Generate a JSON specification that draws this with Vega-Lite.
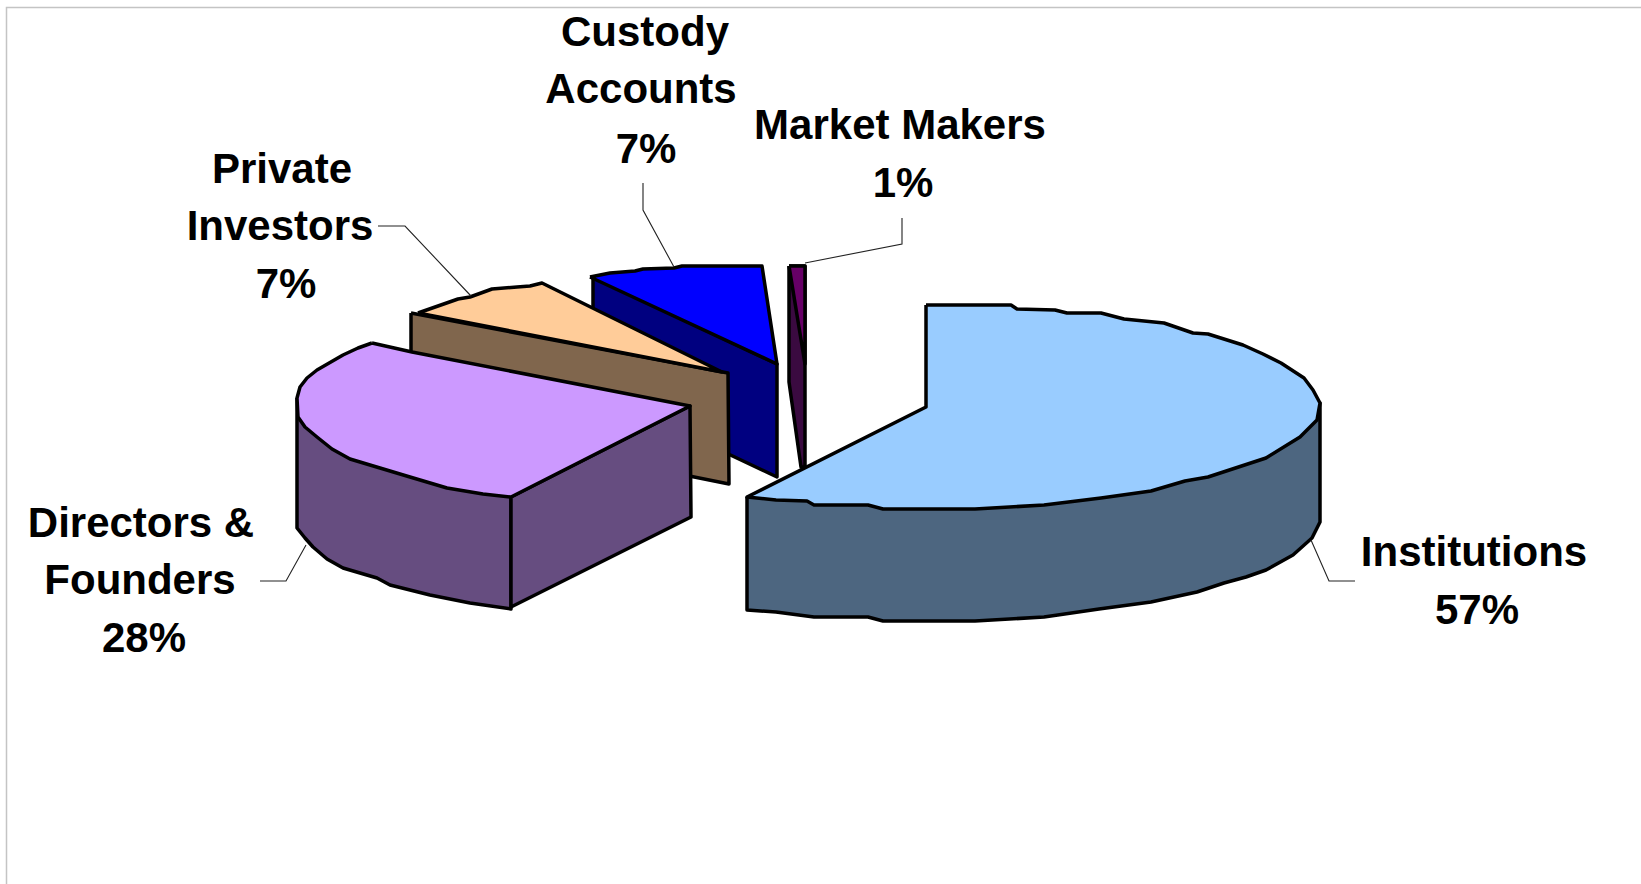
{
  "$schema": "https://vega.github.io/schema/vega-lite/v6.json",
  "width": 1641,
  "height": 884,
  "padding": 0,
  "autosize": {"type": "fit", "contains": "padding"},
  "background": "white",
  "view": {"stroke": null},
  "datasets": {
    "frame": [
      {"edge": "frame", "n": 0, "x": 6.5, "y": 884},
      {"edge": "frame", "n": 1, "x": 6.5, "y": 7.5},
      {"edge": "frame", "n": 2, "x": 1641, "y": 7.5}
    ],
    "pieces": [
      {"piece": "Market Makers side", "n": 0, "x": 789, "y": 266},
      {"piece": "Market Makers side", "n": 1, "x": 805, "y": 266},
      {"piece": "Market Makers side", "n": 2, "x": 805, "y": 467},
      {"piece": "Market Makers side", "n": 3, "x": 801, "y": 467},
      {"piece": "Market Makers side", "n": 4, "x": 789, "y": 382},
      {"piece": "Market Makers side", "n": 5, "x": 789, "y": 266},
      {"piece": "Market Makers top", "n": 0, "x": 789, "y": 266},
      {"piece": "Market Makers top", "n": 1, "x": 805, "y": 266},
      {"piece": "Market Makers top", "n": 2, "x": 805, "y": 364},
      {"piece": "Market Makers top", "n": 3, "x": 789, "y": 266},

      {"piece": "Custody Accounts side", "n": 0, "x": 593, "y": 277},
      {"piece": "Custody Accounts side", "n": 1, "x": 777, "y": 364},
      {"piece": "Custody Accounts side", "n": 2, "x": 777, "y": 477},
      {"piece": "Custody Accounts side", "n": 3, "x": 593, "y": 390},
      {"piece": "Custody Accounts side", "n": 4, "x": 593, "y": 277},
      {"piece": "Custody Accounts top", "n": 0, "x": 590, "y": 277},
      {"piece": "Custody Accounts top", "n": 1, "x": 610, "y": 273},
      {"piece": "Custody Accounts top", "n": 2, "x": 635, "y": 271},
      {"piece": "Custody Accounts top", "n": 3, "x": 643, "y": 269},
      {"piece": "Custody Accounts top", "n": 4, "x": 674, "y": 268},
      {"piece": "Custody Accounts top", "n": 5, "x": 682, "y": 266},
      {"piece": "Custody Accounts top", "n": 6, "x": 762, "y": 266},
      {"piece": "Custody Accounts top", "n": 7, "x": 777, "y": 364},
      {"piece": "Custody Accounts top", "n": 8, "x": 590, "y": 277},

      {"piece": "Private Investors side", "n": 0, "x": 411, "y": 313},
      {"piece": "Private Investors side", "n": 1, "x": 728, "y": 373},
      {"piece": "Private Investors side", "n": 2, "x": 729, "y": 484},
      {"piece": "Private Investors side", "n": 3, "x": 411, "y": 420},
      {"piece": "Private Investors side", "n": 4, "x": 411, "y": 313},
      {"piece": "Private Investors top", "n": 0, "x": 418, "y": 313},
      {"piece": "Private Investors top", "n": 1, "x": 458, "y": 299},
      {"piece": "Private Investors top", "n": 2, "x": 470, "y": 297},
      {"piece": "Private Investors top", "n": 3, "x": 492, "y": 289},
      {"piece": "Private Investors top", "n": 4, "x": 517, "y": 287},
      {"piece": "Private Investors top", "n": 5, "x": 530, "y": 286},
      {"piece": "Private Investors top", "n": 6, "x": 542, "y": 283},
      {"piece": "Private Investors top", "n": 7, "x": 722, "y": 372},
      {"piece": "Private Investors top", "n": 8, "x": 418, "y": 313},

      {"piece": "Directors side", "n": 0, "x": 297, "y": 398},
      {"piece": "Directors side", "n": 1, "x": 297, "y": 528},
      {"piece": "Directors side", "n": 2, "x": 305, "y": 538},
      {"piece": "Directors side", "n": 3, "x": 313, "y": 547},
      {"piece": "Directors side", "n": 4, "x": 327, "y": 559},
      {"piece": "Directors side", "n": 5, "x": 343, "y": 568},
      {"piece": "Directors side", "n": 6, "x": 377, "y": 578},
      {"piece": "Directors side", "n": 7, "x": 390, "y": 585},
      {"piece": "Directors side", "n": 8, "x": 430, "y": 595},
      {"piece": "Directors side", "n": 9, "x": 470, "y": 603},
      {"piece": "Directors side", "n": 10, "x": 511, "y": 609},
      {"piece": "Directors side", "n": 11, "x": 511, "y": 497},
      {"piece": "Directors side", "n": 12, "x": 297, "y": 398},
      {"piece": "Directors cut", "n": 0, "x": 511, "y": 497},
      {"piece": "Directors cut", "n": 1, "x": 690, "y": 406},
      {"piece": "Directors cut", "n": 2, "x": 691, "y": 517},
      {"piece": "Directors cut", "n": 3, "x": 511, "y": 607},
      {"piece": "Directors cut", "n": 4, "x": 511, "y": 497},
      {"piece": "Directors top", "n": 0, "x": 372, "y": 343},
      {"piece": "Directors top", "n": 1, "x": 412, "y": 352},
      {"piece": "Directors top", "n": 2, "x": 690, "y": 406},
      {"piece": "Directors top", "n": 3, "x": 511, "y": 497},
      {"piece": "Directors top", "n": 4, "x": 483, "y": 494},
      {"piece": "Directors top", "n": 5, "x": 447, "y": 488},
      {"piece": "Directors top", "n": 6, "x": 410, "y": 477},
      {"piece": "Directors top", "n": 7, "x": 380, "y": 468},
      {"piece": "Directors top", "n": 8, "x": 350, "y": 459},
      {"piece": "Directors top", "n": 9, "x": 332, "y": 449},
      {"piece": "Directors top", "n": 10, "x": 317, "y": 437},
      {"piece": "Directors top", "n": 11, "x": 305, "y": 427},
      {"piece": "Directors top", "n": 12, "x": 298, "y": 417},
      {"piece": "Directors top", "n": 13, "x": 297, "y": 398},
      {"piece": "Directors top", "n": 14, "x": 300, "y": 387},
      {"piece": "Directors top", "n": 15, "x": 307, "y": 378},
      {"piece": "Directors top", "n": 16, "x": 317, "y": 370},
      {"piece": "Directors top", "n": 17, "x": 343, "y": 355},
      {"piece": "Directors top", "n": 18, "x": 358, "y": 348},
      {"piece": "Directors top", "n": 19, "x": 372, "y": 343},

      {"piece": "Institutions side", "n": 0, "x": 747, "y": 497},
      {"piece": "Institutions side", "n": 1, "x": 747, "y": 610},
      {"piece": "Institutions side", "n": 2, "x": 776, "y": 612},
      {"piece": "Institutions side", "n": 3, "x": 814, "y": 617},
      {"piece": "Institutions side", "n": 4, "x": 868, "y": 617},
      {"piece": "Institutions side", "n": 5, "x": 883, "y": 621},
      {"piece": "Institutions side", "n": 6, "x": 975, "y": 621},
      {"piece": "Institutions side", "n": 7, "x": 1044, "y": 617},
      {"piece": "Institutions side", "n": 8, "x": 1099, "y": 609},
      {"piece": "Institutions side", "n": 9, "x": 1151, "y": 602},
      {"piece": "Institutions side", "n": 10, "x": 1197, "y": 592},
      {"piece": "Institutions side", "n": 11, "x": 1224, "y": 583},
      {"piece": "Institutions side", "n": 12, "x": 1246, "y": 577},
      {"piece": "Institutions side", "n": 13, "x": 1266, "y": 570},
      {"piece": "Institutions side", "n": 14, "x": 1293, "y": 555},
      {"piece": "Institutions side", "n": 15, "x": 1312, "y": 538},
      {"piece": "Institutions side", "n": 16, "x": 1320, "y": 522},
      {"piece": "Institutions side", "n": 17, "x": 1320, "y": 403},
      {"piece": "Institutions side", "n": 18, "x": 1000, "y": 480},
      {"piece": "Institutions side", "n": 19, "x": 747, "y": 497},
      {"piece": "Institutions top", "n": 0, "x": 926, "y": 305},
      {"piece": "Institutions top", "n": 1, "x": 1011, "y": 305},
      {"piece": "Institutions top", "n": 2, "x": 1017, "y": 309},
      {"piece": "Institutions top", "n": 3, "x": 1055, "y": 310},
      {"piece": "Institutions top", "n": 4, "x": 1067, "y": 313},
      {"piece": "Institutions top", "n": 5, "x": 1101, "y": 313},
      {"piece": "Institutions top", "n": 6, "x": 1124, "y": 319},
      {"piece": "Institutions top", "n": 7, "x": 1164, "y": 323},
      {"piece": "Institutions top", "n": 8, "x": 1193, "y": 333},
      {"piece": "Institutions top", "n": 9, "x": 1208, "y": 334},
      {"piece": "Institutions top", "n": 10, "x": 1243, "y": 345},
      {"piece": "Institutions top", "n": 11, "x": 1263, "y": 354},
      {"piece": "Institutions top", "n": 12, "x": 1281, "y": 363},
      {"piece": "Institutions top", "n": 13, "x": 1304, "y": 378},
      {"piece": "Institutions top", "n": 14, "x": 1313, "y": 390},
      {"piece": "Institutions top", "n": 15, "x": 1320, "y": 403},
      {"piece": "Institutions top", "n": 16, "x": 1317, "y": 420},
      {"piece": "Institutions top", "n": 17, "x": 1300, "y": 437},
      {"piece": "Institutions top", "n": 18, "x": 1266, "y": 458},
      {"piece": "Institutions top", "n": 19, "x": 1208, "y": 477},
      {"piece": "Institutions top", "n": 20, "x": 1185, "y": 481},
      {"piece": "Institutions top", "n": 21, "x": 1151, "y": 491},
      {"piece": "Institutions top", "n": 22, "x": 1101, "y": 498},
      {"piece": "Institutions top", "n": 23, "x": 1044, "y": 505},
      {"piece": "Institutions top", "n": 24, "x": 975, "y": 509},
      {"piece": "Institutions top", "n": 25, "x": 883, "y": 509},
      {"piece": "Institutions top", "n": 26, "x": 868, "y": 505},
      {"piece": "Institutions top", "n": 27, "x": 814, "y": 505},
      {"piece": "Institutions top", "n": 28, "x": 807, "y": 501},
      {"piece": "Institutions top", "n": 29, "x": 776, "y": 500},
      {"piece": "Institutions top", "n": 30, "x": 747, "y": 497},
      {"piece": "Institutions top", "n": 31, "x": 926, "y": 407},
      {"piece": "Institutions top", "n": 32, "x": 926, "y": 305}
    ],
    "leaders": [
      {"label": "Institutions", "n": 0, "x": 1311, "y": 540},
      {"label": "Institutions", "n": 1, "x": 1329, "y": 581},
      {"label": "Institutions", "n": 2, "x": 1355, "y": 581},
      {"label": "Directors", "n": 0, "x": 306, "y": 545},
      {"label": "Directors", "n": 1, "x": 286, "y": 581},
      {"label": "Directors", "n": 2, "x": 260, "y": 581},
      {"label": "Private Investors", "n": 0, "x": 378, "y": 226},
      {"label": "Private Investors", "n": 1, "x": 405, "y": 226},
      {"label": "Private Investors", "n": 2, "x": 471, "y": 296},
      {"label": "Custody Accounts", "n": 0, "x": 643, "y": 183},
      {"label": "Custody Accounts", "n": 1, "x": 643, "y": 210},
      {"label": "Custody Accounts", "n": 2, "x": 674, "y": 267},
      {"label": "Market Makers", "n": 0, "x": 902, "y": 218},
      {"label": "Market Makers", "n": 1, "x": 902, "y": 244},
      {"label": "Market Makers", "n": 2, "x": 805, "y": 263}
    ],
    "labels": [
      {"text": "Custody", "x": 645, "y": 46},
      {"text": "Accounts", "x": 641, "y": 103},
      {"text": "7%", "x": 646, "y": 163},
      {"text": "Market Makers", "x": 900, "y": 139},
      {"text": "1%", "x": 903, "y": 197},
      {"text": "Private", "x": 282, "y": 183},
      {"text": "Investors", "x": 280, "y": 240},
      {"text": "7%", "x": 286, "y": 298},
      {"text": "Directors &", "x": 141, "y": 537},
      {"text": "Founders", "x": 140, "y": 594},
      {"text": "28%", "x": 144, "y": 652},
      {"text": "Institutions", "x": 1474, "y": 566},
      {"text": "57%", "x": 1477, "y": 624}
    ]
  },
  "encoding": {
    "x": {"field": "x", "type": "quantitative", "scale": {"domain": [0, 1641], "nice": false, "zero": false}, "axis": null},
    "y": {"field": "y", "type": "quantitative", "scale": {"domain": [884, 0], "nice": false, "zero": false}, "axis": null}
  },
  "layer": [
    {
      "data": {"name": "frame"},
      "mark": {"type": "line", "stroke": "#c4c4c4", "strokeWidth": 1.5, "clip": true},
      "encoding": {"order": {"field": "n", "type": "quantitative"}}
    },
    {
      "data": {"name": "pieces"},
      "mark": {"type": "line", "stroke": "black", "strokeWidth": 3.5, "strokeJoin": "round"},
      "encoding": {
        "order": {"field": "n", "type": "quantitative"},
        "fill": {
          "field": "piece",
          "type": "nominal",
          "legend": null,
          "scale": {
            "domain": [
              "Market Makers side", "Market Makers top",
              "Custody Accounts side", "Custody Accounts top",
              "Private Investors side", "Private Investors top",
              "Directors side", "Directors cut", "Directors top",
              "Institutions side", "Institutions top"
            ],
            "range": [
              "#3a0a40", "#660066",
              "#000080", "#0000ff",
              "#80664d", "#ffcc99",
              "#664d80", "#664d80", "#cc99ff",
              "#4d6680", "#99ccff"
            ]
          }
        }
      }
    },
    {
      "data": {"name": "leaders"},
      "mark": {"type": "line", "stroke": "#222222", "strokeWidth": 1.1},
      "encoding": {
        "detail": {"field": "label", "type": "nominal"},
        "order": {"field": "n", "type": "quantitative"}
      }
    },
    {
      "data": {"name": "labels"},
      "mark": {"type": "text", "font": "Liberation Sans", "fontWeight": "bold", "fontSize": 42, "align": "center", "baseline": "alphabetic", "color": "black"},
      "encoding": {"text": {"field": "text", "type": "nominal"}}
    }
  ]
}
